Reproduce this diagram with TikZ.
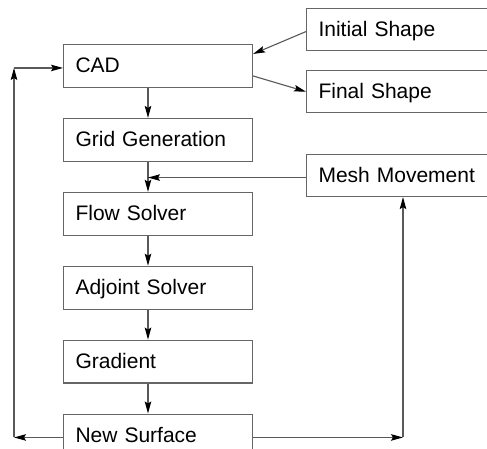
\documentclass[tikz,border=0pt]{standalone}
\usepackage{fontspec}
\setmainfont{Liberation Sans}
\usetikzlibrary{arrows.meta,positioning}
\tikzset{
  blk/.style={draw=black!60, line width=1.1pt, anchor=north west, inner xsep=12pt, inner ysep=0pt,
    minimum height=42.8pt, text width=165pt, align=left, text height=14.5pt, text depth=0.5pt,
    font=\fontsize{21}{25}\selectfont},
  side/.style={blk, minimum height=42pt, text width=161pt},
  flow/.style={draw=black!65, line width=1.1pt, -{Stealth[length=12pt,width=6.5pt,inset=2pt,black]}}
}
\begin{document}
\begin{tikzpicture}[x=1pt, y=-1pt, node distance=30pt]
\clip (0,0) rectangle (487,448);
\fill[white] (0,0) rectangle (487,448);
% main column
\node[blk] (cad) at (63,44) {CAD};
\node[blk, below=of cad.south west, anchor=north west] (grid) {Grid Generation};
\node[blk, below=of grid.south west, anchor=north west] (flow) {Flow Solver};
\node[blk, below=of flow.south west, anchor=north west] (adj) {Adjoint Solver};
\node[blk, below=of adj.south west, anchor=north west] (grad) {Gradient};
\node[blk, below=of grad.south west, anchor=north west] (news) {New Surface};
% boxes on the right
\node[side] (init) at (306,8) {Initial Shape};
\node[side, below=19pt of init.south west, anchor=north west] (final) {Final Shape};
\node[side] (mesh) at (306,154) {Mesh Movement};
% guide lines
\coordinate (spine) at (148,0);
\coordinate (lft) at (14,0);
\coordinate (rgt) at (403,0);
% arrows down the column
\draw[flow] (cad.south -| spine) -- (grid.north -| spine);
\draw[flow] (grid.south -| spine) -- (flow.north -| spine);
\draw[flow] (flow.south -| spine) -- (adj.north -| spine);
\draw[flow] (adj.south -| spine) -- (grad.north -| spine);
\draw[flow] (grad.south -| spine) -- (news.north -| spine);
% shapes in and out of CAD
\draw[flow] ([yshift=-2pt]init.west) -- ([yshift=12pt]cad.east);
\draw[flow] ([yshift=-10pt]cad.east) -- (final.west);
% mesh movement loop
\draw[flow] ([yshift=-2pt]mesh.west) -- ([yshift=-2pt]mesh.west -| spine);
\draw[flow] ([yshift=-2pt]news.east) -- ([yshift=-2pt]news.east -| rgt);
\draw[flow] ([yshift=-2pt]news.east -| rgt) -- (rgt |- mesh.south);
% back to CAD
\draw[flow] ([yshift=-2pt]news.west) -- ([yshift=-2pt]news.west -| lft);
\draw[flow] ([yshift=-2pt]news.west -| lft) -- ([yshift=-2pt]cad.west -| lft);
\draw[flow] ([yshift=-2pt]cad.west -| lft) -- ([yshift=-2pt]cad.west);
\end{tikzpicture}
\end{document}
